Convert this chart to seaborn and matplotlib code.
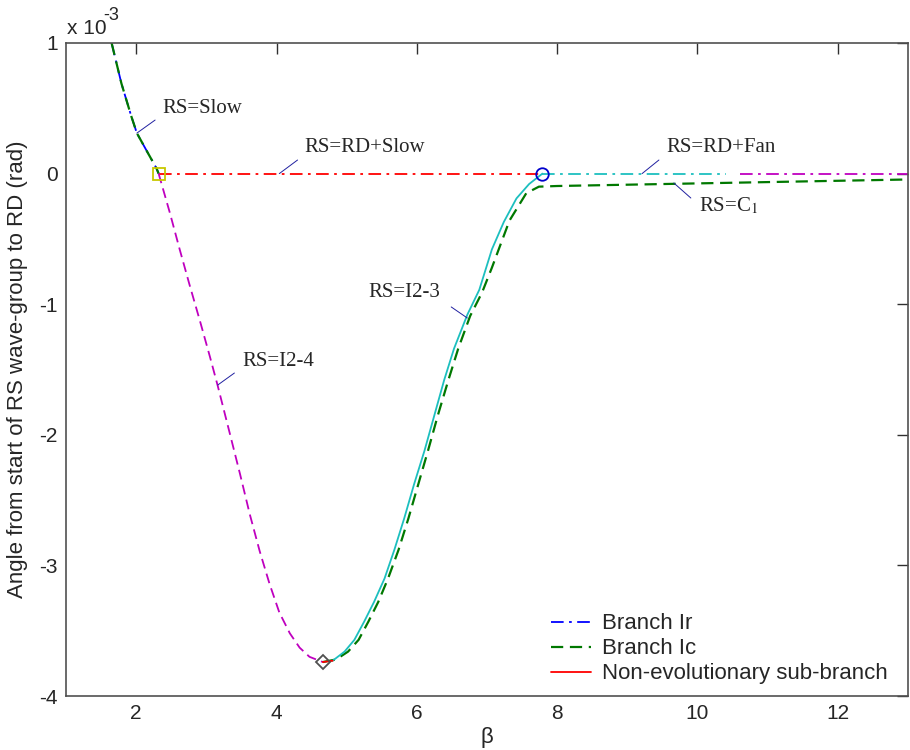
import matplotlib
matplotlib.use("Agg")
import matplotlib.pyplot as plt
from matplotlib.lines import Line2D
import seaborn as sns

# values in units of 1e-3 rad
# branch Ir / Ic, upper part ending at the square
beta_top = [1.65, 1.79, 1.93, 2.01, 2.17, 2.29, 2.32]
ang_top = [1.00, 0.69, 0.44, 0.31, 0.155, 0.04, 0.0]

# RS=I2-4 (magenta dashed) from square down to the minimum
beta_i24 = [2.32, 2.48, 2.62, 2.76, 2.91, 3.05, 3.16, 3.33, 3.48, 3.62, 3.76,
            3.90, 4.04, 4.19, 4.33, 4.47, 4.66]
ang_i24 = [0.0, -0.30, -0.58, -0.85, -1.13, -1.40, -1.62, -1.98, -2.30, -2.61,
           -2.89, -3.14, -3.36, -3.52, -3.63, -3.70, -3.74]

# non-evolutionary sub-branch (short red piece)
beta_nonevo = [4.66, 4.80]
ang_nonevo = [-3.74, -3.73]

# RS=I2-3 (cyan solid) from minimum up to the circle
beta_i23 = [4.80, 4.97, 5.11, 5.25, 5.39, 5.54, 5.68, 5.82, 5.96, 6.11, 6.25,
            6.39, 6.53, 6.72, 6.89, 7.07, 7.24, 7.42, 7.60, 7.79]
ang_i23 = [-3.73, -3.66, -3.57, -3.43, -3.28, -3.10, -2.88, -2.64, -2.38,
           -2.12, -1.85, -1.58, -1.34, -1.08, -0.89, -0.58, -0.37, -0.19,
           -0.08, 0.0]

# branch Ic (green dashed) along I2-3 and then RS=C1
beta_ic = [4.66, 4.85, 5.02, 5.17, 5.31, 5.45, 5.59, 5.74, 5.88, 6.02, 6.16,
           6.30, 6.45, 6.59, 6.76, 6.93, 7.07, 7.32, 7.56, 7.74, 8.0, 9.0,
           10.0, 11.0, 12.0, 13.0]
ang_ic = [-3.74, -3.72, -3.66, -3.57, -3.43, -3.28, -3.10, -2.88, -2.64, -2.38,
          -2.12, -1.85, -1.58, -1.34, -1.09, -0.91, -0.72, -0.36, -0.15,
          -0.10, -0.095, -0.085, -0.075, -0.065, -0.055, -0.045]

# RS=RD+Slow, RS=RD+Fan and the magenta tail
beta_rdslow = [2.32, 7.79]
ang_rdslow = [0.0, 0.0]
beta_rdfan = [7.79, 10.40]
ang_rdfan = [0.0, 0.0]
beta_tail = [10.60, 13.0]
ang_tail = [0.0, 0.0]

# special points
sq_pt = (2.32, 0.0)
circ_pt = (7.79, 0.0)
diam_pt = (4.66, -3.74)

sns.set_style("white")
plt.rcParams["font.family"] = ["Liberation Sans", "DejaVu Sans"]
plt.rcParams["mathtext.fontset"] = "stix"
plt.rcParams["axes.unicode_minus"] = False

fig = plt.figure(figsize=(9.1, 7.5), dpi=100)
ax = fig.add_axes([66 / 910, 54 / 750, 842 / 910, 653 / 750])

BLUE = "#0000ff"
GREEN = "#007800"
RED = "#ff0000"
CYAN = "#1cbfbf"
MAG = "#bf00bf"
LW = 1.3
dashdot = (0, (7, 3, 1.5, 3))
dash = (0, (5.5, 3))

def seg(x, y, color, ls, lw=LW):
    sns.lineplot(x=x, y=y, ax=ax, color=color, linestyle=ls, lw=lw,
                 estimator=None, sort=False)

seg(beta_top, ang_top, BLUE, dashdot)
seg(beta_top, ang_top, GREEN, dash, 1.6)
seg(beta_rdslow, ang_rdslow, RED, dashdot)
seg(beta_rdfan, ang_rdfan, CYAN, dashdot)
seg(beta_tail, ang_tail, MAG, dashdot)
seg(beta_i24, ang_i24, MAG, dash)
seg(beta_ic, ang_ic, GREEN, dash, 1.6)
seg(beta_i23, ang_i23, CYAN, "-")
seg(beta_nonevo, ang_nonevo, RED, "-")

ax.plot(*sq_pt, marker="s", ms=8, mfc="none", mec="#c8c800", mew=1.3)
ax.plot(*circ_pt, marker="o", ms=9, mfc="none", mec="#0000cc", mew=1.3)
ax.plot(*diam_pt, marker="D", ms=7, mfc="none", mec="#505050", mew=1.3)

# labels with small leader lines
labels = [
    ("RS=Slow", (2.37, 0.50), (2.27, 0.41), (2.01, 0.31)),
    ("RS=RD+Slow", (4.40, 0.20), (4.30, 0.104), (4.04, 0.0)),
    ("RS=RD+Fan", (9.56, 0.20), (9.45, 0.104), (9.21, 0.0)),
    ("RS=C$_1$", (10.02, -0.25), (9.905, -0.187), (9.663, -0.072)),
    ("RS=I2-4", (3.52, -1.44), (3.40, -1.527), (3.162, -1.619)),
    ("RS=I2-3", (5.31, -0.91), (6.49, -1.021), (6.72, -1.106)),
]
for txt, tpos, p1, p2 in labels:
    ax.text(tpos[0], tpos[1], txt, family="Liberation Serif", fontsize=15,
            va="center", ha="left")
    ax.plot([p1[0], p2[0]], [p1[1], p2[1]], color="#2020a0", lw=0.7)

ax.set_xlim(1, 13)
ax.set_ylim(-4, 1)
ax.set_xticks([2, 4, 6, 8, 10, 12])
ax.set_yticks([-4, -3, -2, -1, 0, 1])
ax.tick_params(direction="in", top=True, right=True, length=8, width=1,
               labelsize=15, color="#303030", pad=6)
for sp in ax.spines.values():
    sp.set_color("#505050")
    sp.set_linewidth(1.2)

ax.set_xlabel("β", fontsize=16, labelpad=3)
ax.set_ylabel("Angle from start of RS wave-group to RD (rad)", fontsize=16)
ax.yaxis.set_label_coords(-0.045, 0.5)
fig.text(67 / 910, 1 - 34 / 750, "x 10", fontsize=15, ha="left",
         va="baseline")
fig.text(103 / 910, 1 - 20 / 750, "-3", fontsize=13, ha="left",
         va="baseline")

handles = [
    Line2D([], [], color=BLUE, linestyle=dashdot, lw=LW),
    Line2D([], [], color=GREEN, linestyle=dash, lw=1.6),
    Line2D([], [], color=RED, linestyle="-", lw=LW),
]
ax.legend(handles, ["Branch Ir", "Branch Ic", "Non-evolutionary sub-branch"],
          loc="lower right", frameon=False, fontsize=16, handlelength=1.8,
          handletextpad=0.5, labelspacing=0.18, borderaxespad=0.3,
          bbox_to_anchor=(0.994, -0.006))

fig.savefig("out.png", dpi=100)
